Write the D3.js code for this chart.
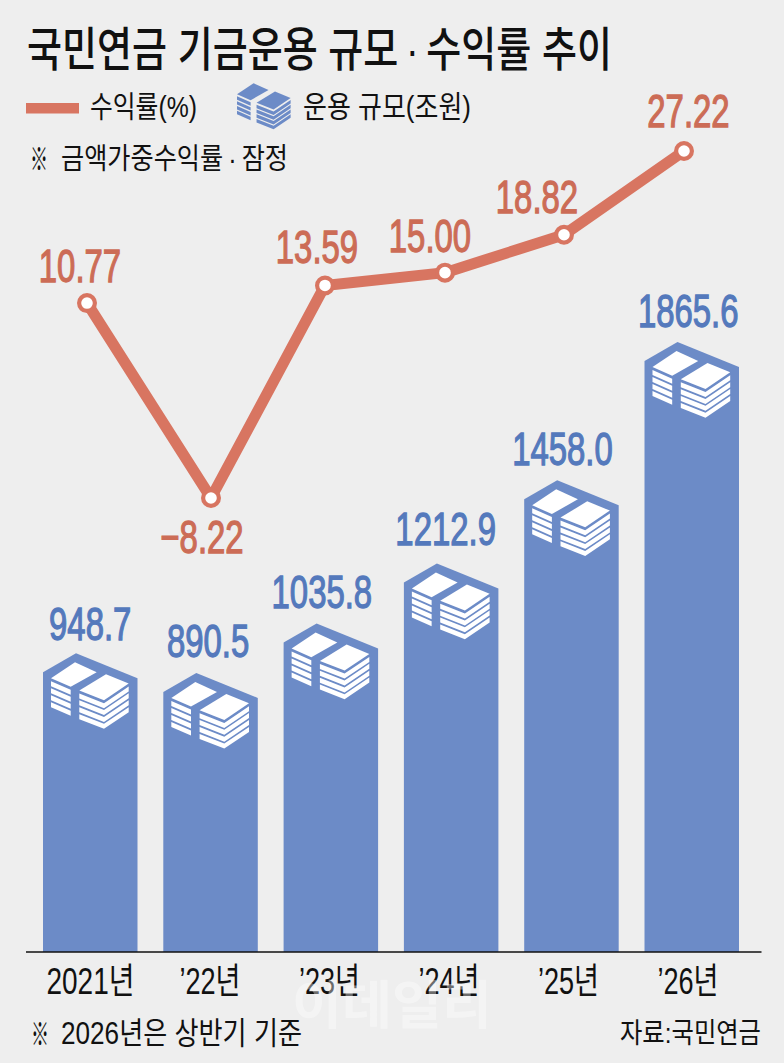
<!DOCTYPE html>
<html><head><meta charset="utf-8">
<script src="https://cdnjs.cloudflare.com/ajax/libs/d3/7.8.5/d3.min.js"></script>
<style>html,body{margin:0;padding:0;background:#eeeeee}svg{display:block}
text{font-family:"Liberation Sans","Noto Sans CJK KR",sans-serif;fill:#111}</style></head>
<body><svg id="c" width="784" height="1063"></svg>
<script>
const categories = ["2021년","’22년","’23년","’24년","’25년","’26년"];
const fundSize = [948.7,890.5,1035.8,1212.9,1458.0,1865.6];
const returnRate = [10.77,-8.22,13.59,15.00,18.82,27.22];
const returnLabels = ["10.77","−8.22","13.59","15.00","18.82","27.22"];
const sizeLabels = ["948.7","890.5","1035.8","1212.9","1458.0","1865.6"];

const W=784,H=1063,base=952;
const BLUE="#6c8bc7",RED="#d87561",RT="#cc6c56",BT="#5479bc",BG="#eeeeee";
const svg=d3.select("#c");
svg.append("rect").attr("width",W).attr("height",H).attr("fill",BG);

const x=d3.scaleBand().domain(categories).range([43,739]).paddingInner(0.2145).paddingOuter(0);
const yBar=d3.scaleLinear().domain([68,1865.6]).range([base,342]);
const xLine=d3.scalePoint().domain(categories).range([87,684]);
const yLine=d3.scaleLinear().domain([-8.22,27.22]).range([498,151]);
// hand placement of the source graphic relative to its scales
const lineNudge=[[0,-9],[4.6,0],[-0.8,1],[-0.2,2],[-0.6,1.5],[0,0]];
const rateLabelPos=[[-7,-21],[-9,55],[-8,-22],[-15,-21],[-27,-22],[4.5,-24]];
const sizeLabelPos=[[0,-13],[-2.5,-16],[-9,-16],[-5.5,-18],[-9,-15],[-3.5,-15]];

function fit(sel,k){sel.each(function(){const n=this.getComputedTextLength();
  d3.select(this).attr("textLength",n*k).attr("lengthAdjust","spacingAndGlyphs");});return sel;}
function fitTo(sel,w){sel.attr("textLength",w).attr("lengthAdjust","spacingAndGlyphs");return sel;}

// icon of two stacks of paper, in bar-relative units
function stacks(g,fill){
  const strip=(pts,dy,h)=>{const top=pts.map(p=>[p[0],p[1]+dy]);
    const bot=pts.slice().reverse().map(p=>[p[0],p[1]+dy+h]);return "M"+top.concat(bot).map(p=>p.join(",")).join("L")+"Z";};
  const poly=pts=>"M"+pts.map(p=>p.join(",")).join("L")+"Z";
  g.append("path").attr("fill",fill).attr("d",poly([[32,9],[53.7,19],[27.7,33.7],[8,25]]));
  g.append("path").attr("fill",fill).attr("d",poly([[63,21],[85.7,30.3],[61,47],[36.3,37.3]]));
  d3.range(4).forEach(k=>{
    g.append("path").attr("fill",fill).attr("d",strip([[8,25],[27.7,33.7]],3+k*7,5));
    g.append("path").attr("fill",fill).attr("d",strip([[36.3,37.3],[61,47],[85.7,30.3]],3+k*6.9,5));
  });
}

// bars
const bars=svg.append("g").selectAll("g").data(fundSize).join("g")
  .attr("transform",(d,i)=>`translate(${x(categories[i])},${yBar(d)})`);
bars.append("path").attr("fill",BLUE).attr("d",(d,i)=>{
  const w=x.bandwidth(),h=base-yBar(d);
  return `M0,${h}L0,19L33,0L${w},25L${w},${h}Z`;});
bars.each(function(){stacks(d3.select(this).append("g"),"#fff");});

// baseline + axis
svg.append("line").attr("x1",26).attr("x2",761.5).attr("y1",base).attr("y2",base).attr("stroke","#111").attr("stroke-width",1.5);
const axis=svg.append("g").attr("transform",`translate(0,${base})`)
  .call(d3.axisBottom(d3.scalePoint().domain(categories).range([90,687.5])).tickSize(0).tickPadding(0));
axis.select(".domain").remove();
axis.selectAll("text").attr("y",42).attr("dy",0).style("font-size","36px").attr("font-family",null).attr("fill","#111")
  .each(function(d,i){fitTo(d3.select(this),i==0?88:61);});

// line
const pts=returnRate.map((d,i)=>[xLine(categories[i])+lineNudge[i][0],yLine(d)+lineNudge[i][1]]);
svg.append("path").attr("d",d3.line()(pts)).attr("fill","none").attr("stroke",RED).attr("stroke-width",11).attr("stroke-linejoin","round");
svg.append("g").selectAll("circle").data(pts).join("circle").attr("cx",d=>d[0]).attr("cy",d=>d[1]).attr("r",7.9)
  .attr("fill","#fff").attr("stroke",RED).attr("stroke-width",4.2);

// value labels
svg.append("g").selectAll("text").data(returnLabels).join("text")
  .text(d=>d).attr("text-anchor","middle")
  .attr("x",(d,i)=>pts[i][0]+rateLabelPos[i][0]).attr("y",(d,i)=>pts[i][1]+rateLabelPos[i][1])
  .style("font-size","46px").style("fill",RT).style("stroke",RT).style("stroke-width",1.3).call(fit,0.715);
svg.append("g").selectAll("text").data(sizeLabels).join("text")
  .text(d=>d).attr("text-anchor","middle")
  .attr("x",(d,i)=>x(categories[i])+x.bandwidth()/2+sizeLabelPos[i][0]).attr("y",(d,i)=>yBar(fundSize[i])+sizeLabelPos[i][1])
  .style("font-size","46px").style("fill",BT).style("stroke",BT).style("stroke-width",1.3).call(fit,0.715);

// title, legend, notes
fitTo(svg.append("text").text("국민연금 기금운용 규모\u2009·\u2009수익률 추이").attr("x",27).attr("y",66).style("font-size","47px").style("font-weight","500"),585);
svg.append("rect").attr("x",26).attr("y",103).attr("width",53).attr("height",10.5).attr("fill",RED);
fitTo(svg.append("text").text("수익률(%)").attr("x",90).attr("y",117).style("font-size","30px"),107);
stacks(svg.append("g").attr("transform","translate(231.5,77) scale(0.69)"),BLUE);
fitTo(svg.append("text").text("운용 규모(조원)").attr("x",303).attr("y",117).style("font-size","30px"),168);
fitTo(svg.append("text").text("※").attr("x",30).attr("y",170).style("font-size","31px"),18);
fitTo(svg.append("text").text("금액가중수익률\u2009·\u2009잠정").attr("x",61).attr("y",169).style("font-size","29px"),227);
fitTo(svg.append("text").text("※").attr("x",31).attr("y",1045).style("font-size","31px"),18);
fitTo(svg.append("text").text("2026년은 상반기 기준").attr("x",61).attr("y",1044).style("font-size","31px"),241);
fitTo(svg.append("text").text("자료:국민연금").attr("x",620).attr("y",1043).style("font-size","28px"),141);
// watermark
fitTo(svg.append("text").text("이데일리").attr("x",292).attr("y",1024).style("font-size","52px").style("font-weight","bold").style("fill","#fff").style("opacity",0.38),200);
</script></body></html>
